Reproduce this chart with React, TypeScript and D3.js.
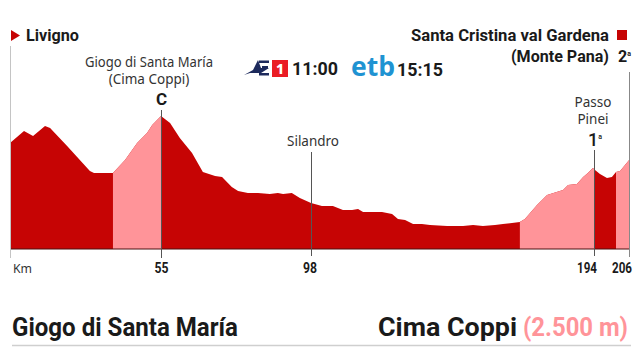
import React from "react";
import * as d3 from "d3";

const kms = [0,5.1,8.4,12.75,14.6,20.8,29.1,30.6,37.5,41.9,46.3,49.9,51.8,55,57.6,60.4,63.9,67,70.5,72.5,75.3,77.1,79.9,82.8,86.2,88.5,90,92.5,94.8,98,101.7,105.4,108.8,111.9,113.9,115.6,122,125.4,127.4,129.8,132.5,135.5,138.2,144,149.4,152.8,156.1,160.2,162.9,168.6,170.3,174.4,177.8,183.2,184.9,187.9,190,191.6,193.3,194,195.7,198.1,199.8,201.2,202.6,205.7,206];
const elevations = [2155,2308,2244,2372,2346,2116,1797,1771,1771,1937,2155,2282,2385,2500,2410,2219,2027,1784,1733,1720,1592,1541,1516,1516,1503,1516,1503,1516,1452,1388,1350,1350,1298,1298,1311,1273,1273,1247,1183,1171,1120,1120,1107,1094,1094,1107,1094,1107,1120,1145,1183,1362,1490,1554,1618,1631,1720,1771,1835,1810,1758,1707,1720,1784,1797,1937,1950];
const climbs: [number, number][] = [[37.5,55],[168.6,194],[201.2,206]];
const tickKm = [55,98,194,206];
const tickCentres = [161.5,310,587,622];
const DARK = "#c60404", LIGHT = "#ff9499", INK = "#1a1a1a";

const x = d3.scaleLinear().domain([0,55,98,194,206]).range([10,161,311,595,630]);
const y = d3.scaleLinear().domain([800,2500]).range([249,116]);
const pts = kms.map((k,i)=>({k,e:elevations[i]}));
const area = d3.area<{k:number;e:number}>().x(d=>x(d.k)).y0(y(800)).y1(d=>y(d.e));
const sans = "Noto Sans, sans-serif";
const rob = "Roboto, sans-serif";

export default function App(){
  return (
    <svg width={644} height={362} style={{position:"absolute",left:0,top:0,background:"#fff"}}>
      <path d={area(pts)!} fill={DARK}/>
      {climbs.map(([a,b])=><path key={a} d={area(pts.filter(p=>p.k>=a&&p.k<=b))!} fill={LIGHT}/>)}
      <line x1={10} x2={630} y1={y(800)} y2={y(800)} stroke="#4a1010" strokeWidth={1}/>
      <line x1={10.5} x2={10.5} y1={46} y2={258} stroke="#c4c4c4" strokeWidth={1}/>
      <line x1={x(55)+.5} x2={x(55)+.5} y1={110} y2={258} stroke="#555" strokeWidth={1}/>
      <line x1={x(98)+.5} x2={x(98)+.5} y1={152} y2={256} stroke="#555" strokeWidth={1}/>
      <line x1={x(194)-.5} x2={x(194)-.5} y1={150} y2={256} stroke="#555" strokeWidth={1}/>
      <line x1={629.5} x2={629.5} y1={72} y2={257} stroke="#888" strokeWidth={1}/>

      <polygon points="11,30 20,35.5 11,41" fill={DARK}/>
      <rect x={617} y={30} width={10} height={10} fill={DARK}/>
      <g fontFamily={rob} fontWeight={700} fill={INK} fontSize={16}>
        <text x={26} y={41} textLength={53} lengthAdjust="spacingAndGlyphs">Livigno</text>
        <text x={609} y={41} textAnchor="end" textLength={198} lengthAdjust="spacingAndGlyphs">Santa Cristina val Gardena</text>
        <text x={609} y={62} textAnchor="end" textLength={98} lengthAdjust="spacingAndGlyphs">(Monte Pana)</text>
        <text x={618} y={62}>2<tspan fontSize={7} dy={-6}>a</tspan></text>
      </g>
      <g fontFamily={sans} fontWeight={400} fill="#333" fontSize={13.5} textAnchor="middle">
        <text x={149} y={67} textLength={128} lengthAdjust="spacingAndGlyphs">Giogo di Santa María</text>
        <text x={149} y={84}>(Cima Coppi)</text>
        <text x={313} y={146} textLength={52} lengthAdjust="spacingAndGlyphs">Silandro</text>
        <text x={593} y={107}>Passo</text>
        <text x={593} y={124}>Pinei</text>
      </g>
      <text x={161.5} y={105} textAnchor="middle" fontFamily={rob} fontWeight={700} fontSize={17} fill={INK}>C</text>
      <text x={588} y={146} fontFamily={rob} fontWeight={500} fontSize={18} fill={INK}>1<tspan fontSize={7} dy={-7}>a</tspan></text>

      <polygon points="244,75 253,70 258,60 261,68 269,68 261,73 250,73" fill="#1d2a5c"/>
      <g fill="#1d2a5c">
        <rect x={259} y={60.5} width={10} height={2.5}/>
        <rect x={262} y={66} width={6} height={2.5}/>
        <rect x={259} y={73} width={10} height={2.5}/>
      </g>
      <rect x={272} y={60} width={16} height={17} fill="#ea1c24"/>
      <text x={280} y={74} textAnchor="middle" fontFamily={sans} fontWeight={800} fontSize={14} fill="#fff">1</text>
      <text x={292} y={75} fontFamily={rob} fontWeight={700} fontSize={18} fill={INK} textLength={46} lengthAdjust="spacingAndGlyphs">11:00</text>
      <text x={351} y={76} fontFamily="Open Sans, sans-serif" fontWeight={700} fontSize={26} fill="#1f93d2" textLength={44} lengthAdjust="spacingAndGlyphs">etb</text>
      <text x={397} y={76} fontFamily={rob} fontWeight={700} fontSize={18} fill={INK} textLength={46} lengthAdjust="spacingAndGlyphs">15:15</text>

      <text x={13} y={273} fontFamily={sans} fontWeight={400} fontSize={13} fill="#333" textLength={19} lengthAdjust="spacingAndGlyphs">Km</text>
      {tickKm.map((k,i)=>(
        <text key={k} x={tickCentres[i]} y={273} textAnchor="middle" fontFamily={rob} fontWeight={700} fontSize={14} fill={INK} textLength={k>100?20:14} lengthAdjust="spacingAndGlyphs">{k}</text>
      ))}

      <g fontFamily={rob} fontWeight={700} fontSize={25}>
        <text x={12} y={335.5} fill={INK} textLength={226} lengthAdjust="spacingAndGlyphs">Giogo di Santa María</text>
        <text x={378} y={335.5} fill={INK} textLength={139} lengthAdjust="spacingAndGlyphs">Cima Coppi</text>
        <text x={523} y={335.5} fill={LIGHT} textLength={105} lengthAdjust="spacingAndGlyphs">(2.500 m)</text>
      </g>
      <line x1={12} x2={631} y1={345.5} y2={345.5} stroke="#cfcfcf" strokeWidth={1.5}/>
    </svg>
  );
}
